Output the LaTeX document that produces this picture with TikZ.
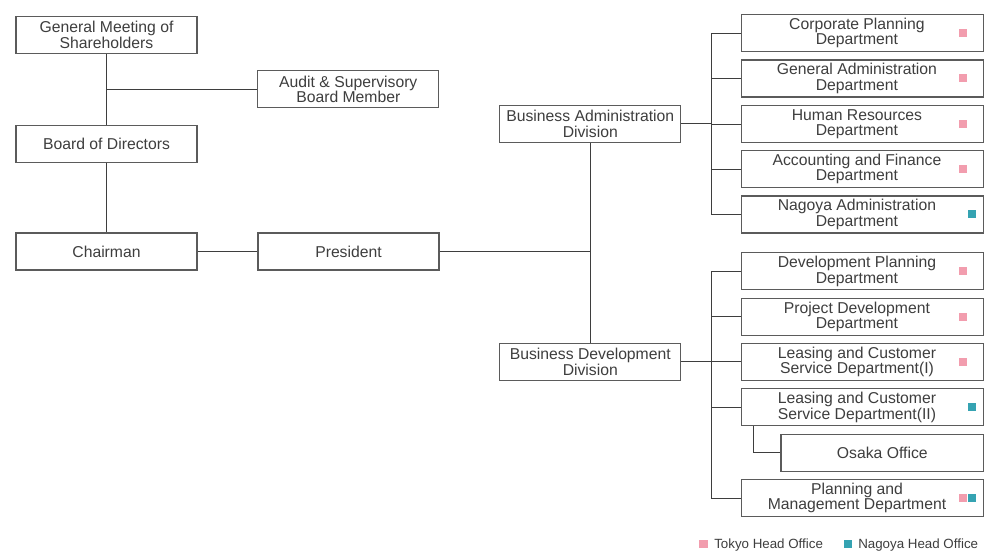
\documentclass[tikz,border=0pt]{standalone}
\usepackage{fontspec}
\setmainfont{Liberation Sans}
\usetikzlibrary{calc}
\definecolor{ink}{HTML}{3E3E3E}
\definecolor{tokyo}{HTML}{F29DAE}
\definecolor{nagoya}{HTML}{35A3B2}
\tikzset{
  box/.style={draw=ink!85, line width=0.85pt, minimum width=135.75pt, minimum height=27.75pt,
    inner sep=0pt, align=center, text=ink, font=\fontsize{11.8}{11.6}\selectfont},
  deptbox/.style={box, minimum width=181.5pt},
  depttext/.style={align=center, text=ink, inner sep=0pt, xshift=-4.3pt, font=\fontsize{11.8}{11.6}\selectfont},
  link/.style={draw=ink, line width=0.75pt},
  legendtext/.style={anchor=base west, inner sep=0pt, text=ink, font=\fontsize{10}{10}\selectfont}
}
\begin{document}
\begin{tikzpicture}[x=0.75pt,y=-0.75pt]
  \useasboundingbox[fill=white] (0,0) rectangle (986,552);
  % left column
  \node[box] (gms) at (106.5,34.7) {General Meeting of\\Shareholders};
  \node[box] (audit) at (348.3,89.2) {Audit \& Supervisory\\Board Member};
  \node[box] (board) at (106.5,143.7) {Board of Directors};
  \node[box] (chair) at (106.5,251.5) {Chairman};
  \node[box] (pres) at (348.5,251.5) {President};
  \node[box] (bad) at (590.3,124) {Business Administration\\Division};
  \node[box] (bdd) at (590.3,361.7) {Business Development\\Division};

  \draw[link] (gms.south) -- (board.north);
  \draw[link] (gms.south |- audit.west) -- (audit.west);
  \draw[link] (board.south) -- (chair.north);
  \draw[link] (chair.east) -- (pres.west);
  \draw[link] (pres.east) -- (pres.east -| bad.south);
  \draw[link] (bad.south) -- (bdd.north);

  % administration departments
  \node[deptbox, label={[depttext]center:Corporate Planning\\Department}] (cpd) at (862.7,33.2) {};
  \node[deptbox, label={[depttext]center:General Administration\\Department}] (gad) at (862.7,78.5) {};
  \node[deptbox, label={[depttext]center:Human Resources\\Department}] (hrd) at (862.7,124.2) {};
  \node[deptbox, label={[depttext]center:Accounting and Finance\\Department}] (afd) at (862.7,169.2) {};
  \node[deptbox, label={[depttext]center:Nagoya Administration\\Department}] (nad) at (862.7,214.5) {};

  \coordinate (atrunk) at (711,0);
  \draw[link] (bad.east) -- (bad.east -| atrunk);
  \draw[link] (cpd.west) -- (cpd.west -| atrunk) -- (nad.west -| atrunk) -- (nad.west);
  \foreach \d in {gad,hrd,afd}
    \draw[link] (\d.west) -- (\d.west -| atrunk);

  % development departments
  \node[deptbox, label={[depttext]center:Development Planning\\Department}] (dpd) at (862.7,271.3) {};
  \node[deptbox, label={[depttext]center:Project Development\\Department}] (pdd) at (862.7,317) {};
  \node[deptbox, label={[depttext]center:Leasing and Customer\\Service Department(I)}] (lcs1) at (862.7,362) {};
  \node[deptbox, label={[depttext]center:Leasing and Customer\\Service Department(II)}] (lcs2) at (862.7,407.3) {};
  \node[box, minimum width=152pt] (osaka) at (882.3,452.8) {Osaka Office};
  \node[deptbox, label={[depttext]center:Planning and\\Management Department}] (pmd) at (862.7,498) {};

  \coordinate (dtrunk) at (711,0);
  \draw[link] (bdd.east) -- (bdd.east -| dtrunk);
  \draw[link] (dpd.west) -- (dpd.west -| dtrunk) -- (pmd.west -| dtrunk) -- (pmd.west);
  \foreach \d in {pdd,lcs1,lcs2}
    \draw[link] (\d.west) -- (\d.west -| dtrunk);
  \draw[link] ([xshift=9.2pt]lcs2.south west) |- (osaka.west);

  % office marks
  \foreach \d in {cpd,gad,hrd,afd,dpd,pdd,lcs1,pmd}
    \fill[tokyo] ($(\d.east)+(-25.4,-4)$) rectangle ++(8.4,8);
  \foreach \d in {nad,lcs2,pmd}
    \fill[nagoya] ($(\d.east)+(-16.6,-4)$) rectangle ++(8.4,8);

  % legend
  \fill[tokyo] (699.3,539.8) rectangle (707.5,547.8);
  \node[legendtext] (tokyolab) at (714,548.3) {Tokyo Head Office};
  \fill[nagoya] (843.5,539.8) rectangle (851.7,547.8);
  \node[legendtext] (nagoyalab) at (858,548.3) {Nagoya Head Office};
\end{tikzpicture}
\end{document}
